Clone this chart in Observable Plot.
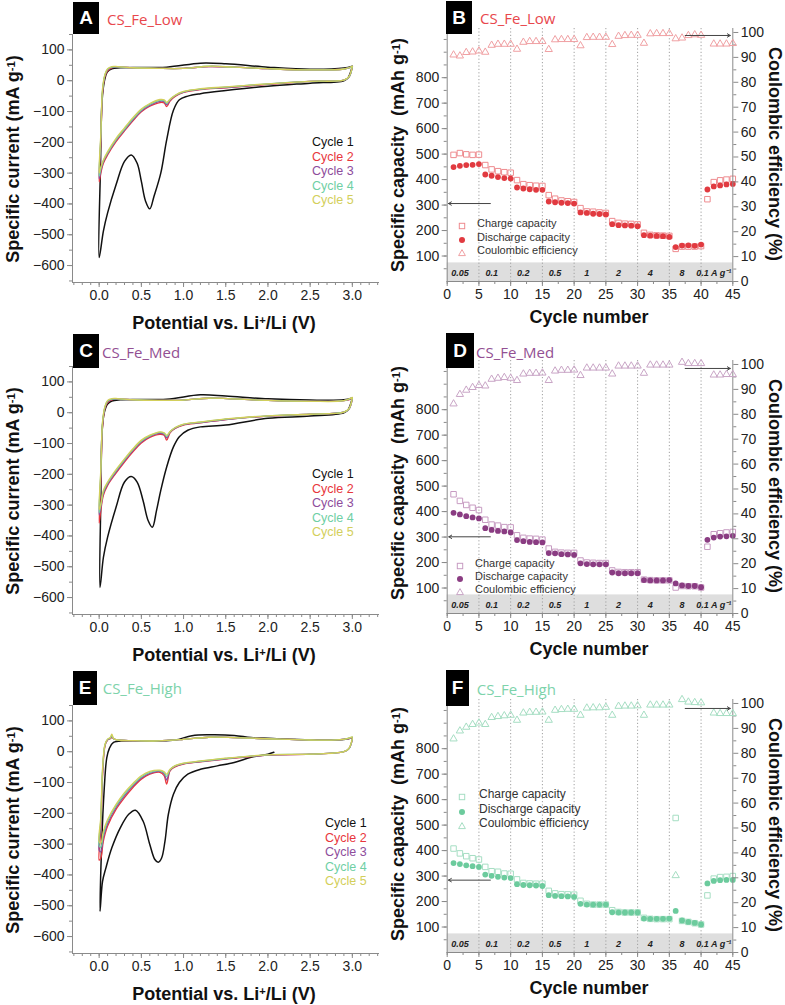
<!DOCTYPE html>
<html><head><meta charset="utf-8">
<script src="https://cdn.jsdelivr.net/npm/d3@7"></script>
<script src="https://cdn.jsdelivr.net/npm/@observablehq/plot@0.6"></script>
<style>
html,body{margin:0;padding:0;background:#fff;}
#root{position:relative;width:785px;height:1005px;overflow:hidden;background:#fff;font-family:"Liberation Sans",Arial,sans-serif;}
.box{position:absolute;background:#000;color:#fff;font-weight:bold;font-size:19px;display:flex;align-items:center;justify-content:center;}
.ttl{position:absolute;font-family:"Open Sans",sans-serif;font-size:15px;line-height:20px;white-space:nowrap;transform:translateY(-50%);}
.axt{position:absolute;font-weight:bold;font-size:18px;white-space:nowrap;color:#111;line-height:20px;}
.rotL{transform:translate(-50%,-50%) rotate(-90deg);}
.rotR{transform:translate(-50%,-50%) rotate(90deg);}
.hc{transform:translate(-50%,-50%);}
.axt sup{font-size:0.62em;position:relative;top:-0.2em;vertical-align:top;}
.lg{position:absolute;white-space:nowrap;line-height:1;transform:translateY(-50%);}
.lg sup{font-size:0.65em;vertical-align:top;}
.pw{position:absolute;}
.pw svg{background:transparent !important;overflow:visible;}
</style>
</head><body><div id="root"></div>
<script>
// ---------------- DATA ----------------
const cycleLabels = ["Cycle 1", "Cycle 2", "Cycle 3", "Cycle 4", "Cycle 5"];
const cycleColors = ["#111111", "#e8363c", "#8e4d9c", "#6fcfa4", "#d3cf5b"];

// Shared potential grid (V) for cycles 2-5 of panels A and C
const gridAC = [3.0, 2.96, 2.9, 2.5, 2.0, 1.5, 1.2, 1.0, 0.9, 0.84, 0.8, 0.77, 0.72, 0.6, 0.5, 0.4, 0.3, 0.2, 0.1, 0.05, 0.02, 0.0,
                0.02, 0.04, 0.07, 0.1, 0.15, 0.22, 0.4, 0.7, 1.0, 1.3, 1.6, 2.0, 2.5, 2.9, 3.0];
// Panel A (CS_Fe_Low) currents, mA/g
const A_c1_V = [3.0, 2.95, 2.9, 2.5, 2.0, 1.5, 1.2, 1.05, 0.95, 0.88, 0.8, 0.73, 0.65, 0.6, 0.55, 0.5, 0.45, 0.38, 0.3, 0.2, 0.1, 0.05, 0.0,
                0.016, 0.035, 0.063, 0.095, 0.15, 0.25, 0.8, 1.2, 1.5, 2.0, 2.5, 2.9, 3.0];
const A_c1_I = [47, 10, 0, -8, -18, -32, -42, -50, -62, -96, -192, -300, -375, -416, -391, -327, -268, -241, -262, -338, -429, -488, -574,
                -278, -63, 0, 28, 39, 42, 44, 57, 55, 44, 37, 41, 47];
const A_c2 = [45, 12, 2, -2, -12, -23, -29, -38, -51, -66, -84, -72, -71, -83, -101, -130, -163, -198, -241, -268, -300, -328,
              -200, -40, 15, 32, 42, 44, 42, 40, 40, 46, 44, 39, 35, 38, 45];
const A_c3 = [45, 12, 2, -2, -11, -22, -28, -37, -49, -63, -78, -68, -67, -80, -98, -127, -160, -194, -237, -263, -292, -318,
              -185, -35, 18, 35, 43, 45, 42, 40, 40, 46, 44, 39, 35, 38, 45];
const A_c4 = [46, 12, 2, -2, -10, -21, -27, -36, -48, -61, -74, -65, -64, -77, -95, -124, -157, -191, -234, -260, -286, -310,
              -180, -30, 20, 37, 44, 45, 42, 40, 40, 47, 44, 39, 35, 38, 46];
const A_c5 = [47, 13, 2, -2, -10, -20, -26, -35, -47, -60, -70, -62, -61, -74, -92, -120, -153, -187, -230, -257, -280, -300,
              -170, -25, 22, 39, 46, 46, 42, 40, 40, 47, 44, 39, 35, 38, 47];
// Panel C (CS_Fe_Med)
const C_c1_V = [3.0, 2.95, 2.9, 2.5, 2.0, 1.5, 1.2, 1.05, 0.95, 0.88, 0.8, 0.73, 0.68, 0.63, 0.58, 0.52, 0.45, 0.38, 0.3, 0.2, 0.1, 0.05, 0.01,
                0.02, 0.035, 0.06, 0.1, 0.15, 0.25, 0.8, 1.2, 1.5, 2.0, 2.5, 2.9, 3.0];
const C_c1_I = [48, 10, 0, -11, -18, -40, -46, -57, -78, -111, -176, -252, -317, -372, -350, -285, -225, -207, -225, -307, -404, -470, -567,
                -280, -60, 0, 28, 38, 42, 44, 58, 54, 45, 41, 42, 48];
const C_c2 = [46, 12, 2, -5, -11, -22, -33, -40, -51, -65, -89, -73, -70, -80, -98, -127, -160, -196, -236, -268, -317, -358,
              -220, -45, 15, 33, 42, 44, 42, 40, 41, 47, 45, 40, 37, 39, 46];
const C_c3 = [46, 12, 2, -5, -11, -22, -32, -39, -50, -63, -82, -70, -67, -77, -95, -123, -156, -192, -232, -262, -306, -332,
              -200, -38, 18, 36, 43, 45, 42, 40, 41, 47, 45, 40, 37, 39, 47];
const C_c4 = [47, 12, 2, -5, -10, -21, -31, -38, -49, -62, -77, -67, -64, -75, -92, -120, -153, -188, -228, -257, -300, -325,
              -190, -32, 20, 38, 44, 45, 42, 40, 41, 47, 45, 40, 37, 39, 48];
const C_c5 = [48, 13, 2, -5, -10, -20, -30, -37, -48, -61, -73, -65, -62, -73, -89, -117, -150, -185, -225, -252, -296, -315,
              -180, -28, 22, 40, 46, 46, 42, 40, 41, 47, 45, 40, 37, 39, 50];
// Panel E (CS_Fe_High)
const gridE = [3.0, 2.96, 2.9, 2.5, 2.0, 1.5, 1.2, 1.0, 0.9, 0.84, 0.8, 0.77, 0.72, 0.6, 0.5, 0.4, 0.3, 0.2, 0.1, 0.05, 0.02, 0.0,
               0.02, 0.04, 0.07, 0.1, 0.13, 0.15, 0.17, 0.22, 0.4, 0.7, 1.0, 1.3, 1.6, 2.0, 2.5, 2.9, 3.0];
const E_c1_V = [2.07, 2.0, 1.8, 1.6, 1.4, 1.2, 1.05, 0.95, 0.88, 0.82, 0.78, 0.74, 0.7, 0.66, 0.6, 0.52, 0.43, 0.35, 0.25, 0.15, 0.08, 0.04, 0.01,
                0.03, 0.06, 0.09, 0.12, 0.17, 0.3, 0.7, 0.9, 1.1, 1.3, 1.6, 1.8, 2.0, 2.5, 2.9, 3.0];
const E_c1_I = [-2, -8, -18, -35, -46, -57, -73, -100, -138, -203, -290, -345, -359, -350, -301, -225, -190, -203, -247, -312, -377, -421, -518,
                -300, -120, -20, 10, 30, 35, 35, 38, 52, 55, 53, 46, 44, 38, 40, 45];
const E_c2 = [40, 10, 0, -8, -11, -24, -33, -40, -49, -62, -105, -78, -67, -73, -89, -116, -149, -187, -241, -290, -345, -352,
              -250, -80, 20, 38, 42, 46, 42, 38, 36, 35, 40, 47, 46, 42, 38, 40, 45];
const E_c3 = [41, 10, 0, -8, -11, -23, -32, -39, -47, -60, -92, -72, -64, -70, -85, -111, -143, -181, -233, -278, -325, -320,
              -230, -70, 22, 39, 43, 50, 42, 38, 36, 35, 40, 47, 46, 42, 38, 40, 46];
const E_c4 = [42, 10, 0, -8, -10, -22, -31, -38, -46, -58, -80, -68, -62, -67, -82, -107, -138, -176, -226, -268, -310, -305,
              -220, -60, 24, 40, 44, 53, 42, 38, 36, 35, 40, 47, 46, 42, 38, 40, 47];
const E_c5 = [43, 11, 0, -8, -10, -21, -30, -37, -45, -57, -73, -65, -60, -64, -78, -103, -133, -171, -220, -258, -296, -292,
              -210, -55, 25, 41, 46, 57, 43, 38, 36, 35, 40, 47, 46, 42, 38, 40, 48];

// Rate capability (mAh/g) and Coulombic efficiency (%)
const cycleNumbers = d3.range(1, 46);
const rateLabels = ["0.05", "0.1", "0.2", "0.5", "1", "2", "4", "8", "0.1 A g\u207B\u00B9"];
const rateStarts = [0, 5, 10, 15, 20, 25, 30, 35, 40];
const legendLabels = ["Charge capacity", "Discharge capacity", "Coulombic efficiency"];

const B_charge = [497, 504, 499, 497, 498, 457, 440, 433, 429, 427, 398, 382, 378, 376, 375, 339, 325, 318, 315, 312, 288, 275, 274, 271, 269,
                  237, 230, 227, 226, 224, 191, 183, 181, 180, 179, 128, 137, 137, 137, 139, 323, 390, 397, 400, 403];
const B_discharge = [449, 454, 457, 458, 461, 420, 415, 410, 406, 404, 369, 365, 362, 360, 360, 314, 311, 309, 308, 306, 271, 269, 266, 265, 263,
                     225, 221, 220, 219, 217, 182, 180, 179, 178, 175, 135, 141, 142, 140, 145, 361, 373, 377, 381, 383];
const B_ce = [91.0, 90.6, 92.0, 92.2, 92.6, 92.1, 94.9, 95.3, 95.3, 95.3, 93.3, 96.1, 96.4, 96.4, 96.4, 93.2, 97.1, 97.2, 97.2, 97.2, 94.7, 98.0, 98.1, 98.1, 98.1,
              95.2, 98.5, 98.8, 98.9, 98.9, 95.7, 99.5, 99.6, 99.6, 99.6, 97.5, 97.8, 98.8, 99.1, 98.9, null, 95.4, 95.4, 95.4, 95.6];
const D_charge = [468, 442, 426, 415, 406, 368, 349, 345, 339, 338, 307, 297, 294, 293, 290, 255, 242, 239, 238, 238, 208, 200, 199, 198, 198,
                  169, 163, 162, 162, 162, 133, 131, 130, 130, 130, 102, 108, 107, 107, 102, 262, 311, 315, 318, 320];
const D_discharge = [395, 389, 382, 377, 373, 335, 328, 324, 322, 318, 288, 284, 281, 280, 279, 237, 236, 233, 232, 230, 197, 194, 193, 193, 193,
                     161, 158, 158, 158, 158, 131, 130, 130, 130, 131, 118, 110, 108, 108, 103, 289, 298, 302, 303, 305];
const D_ce = [84.2, 88.0, 89.7, 90.8, 91.6, 91.4, 94.1, 94.5, 94.8, 94.5, 93.6, 96.2, 96.5, 96.5, 96.6, 93.6, 97.4, 97.7, 97.7, 97.8, 95.6, 98.6, 98.6, 98.6, 98.6,
              96.2, 99.4, 99.4, 99.4, 99.4, 96.5, 99.8, 99.8, 99.8, 99.8, null, 100.9, 100.4, 100.4, 100.4, null, 95.8, 95.8, 96.0, 96.0];
const F_charge = [408, 389, 378, 370, 365, 336, 319, 317, 310, 309, 287, 273, 271, 270, 270, 242, 232, 229, 228, 227, 203, 191, 188, 188, 188,
                  166, 159, 157, 157, 157, 136, 132, 131, 131, 131, 528, 124, 120, 115, 110, 224, 290, 296, 297, 300];
const F_discharge = [351, 347, 342, 339, 336, 306, 301, 297, 294, 292, 268, 265, 264, 263, 261, 225, 222, 221, 220, 218, 191, 188, 188, 188, 188,
                     158, 157, 157, 157, 157, 133, 132, 132, 132, 133, 163, 126, 120, 116, 110, 271, 281, 284, 285, 285];
const F_ce = [85.8, 89.0, 90.5, 91.6, 92.2, 91.6, 94.4, 94.8, 95.1, 95.3, 93.3, 96.2, 96.5, 96.5, 96.6, 93.3, 97.3, 97.6, 97.7, 97.7, 95.3, 98.2, 98.3, 98.3, 98.5,
              95.3, 98.9, 99.0, 99.0, 99.1, 95.3, 99.4, 99.4, 99.4, 99.4, 30.9, 101.6, 100.6, 100.4, 100.3, null, 96.2, 96.0, 96.0, 96.0];

// ---------------- LAYOUT ----------------
const root = document.getElementById("root");
function el(tag, cls, style, html) {
  const e = document.createElement(tag);
  if (cls) e.className = cls;
  Object.assign(e.style, style || {});
  if (html != null) e.innerHTML = html;
  root.appendChild(e);
  return e;
}
function place(svg, left, top) {
  const w = el("div", "pw", {left: left + "px", top: top + "px"});
  w.appendChild(svg);
}
const AX = "#8a8a8a", TX = "#222";
const fmtMinus = d => d < 0 ? "\u2212" + Math.abs(d) : String(d);
const baseStyle = {fontFamily: "'Liberation Sans', Arial, sans-serif", fontSize: "14px", background: "transparent", color: TX, overflow: "visible"};

function cvPanel(p) {
  const series = p.cycles.map((c, k) => c.V.map((v, i) => ({v, cur: c.I[i], k})));
  const svg = Plot.plot({
    width: 390, height: 334, marginLeft: 72, marginRight: 12, marginTop: 34, marginBottom: 52,
    style: baseStyle,
    x: {domain: [-0.316, 3.31], axis: null},
    y: {domain: [-655, 150], axis: null},
    marks: [
      Plot.axisY({ticks: d3.range(-650, 151, 50), tickSize: 3, tickFormat: () => "", stroke: AX, label: null}),
      Plot.axisY({ticks: d3.range(-600, 101, 100), tickSize: 5, tickPadding: 3, tickFormat: fmtMinus, stroke: AX, fill: TX, fontSize: 14, label: null}),
      Plot.axisX({ticks: d3.range(-3, 34).map(d => d / 10), tickSize: 3, tickFormat: () => "", stroke: AX, label: null}),
      Plot.axisX({ticks: d3.range(0, 7).map(d => d / 2), tickSize: 5, tickPadding: 3, tickFormat: d => d.toFixed(1), stroke: AX, fill: TX, fontSize: 14, label: null}),
      Plot.frame({anchor: "left", stroke: AX}),
      Plot.frame({anchor: "bottom", stroke: AX}),
      ...series.map((s, k) => Plot.line(s, {x: "v", y: "cur", stroke: cycleColors[k], strokeWidth: k === 0 ? 1.5 : 1.3, curve: "catmull-rom"}))
    ]
  });
  place(svg, 0, p.top);
  // labels
  el("div", "box", {left: "73px", top: (p.top + p.box[0]) + "px", width: p.box[1] + "px", height: p.box[2] + "px"}, p.letter);
  el("div", "ttl", {left: p.title[0] + "px", top: (p.top + p.title[1]) + "px", color: p.titleColor}, p.name);
  el("div", "axt rotL", {left: "13px", top: (p.top + 158.5) + "px"}, "Specific current (mA g<sup>-1</sup>)");
  el("div", "axt hc", {left: "224px", top: (p.top + 322.7) + "px"}, "Potential vs. Li<sup>+</sup>/Li (V)");
  cycleLabels.forEach((t, i) => {
    el("div", "lg", {left: p.legend[0] + "px", top: (p.top + p.legend[1] + i * 14.5) + "px", fontSize: "12.5px", color: cycleColors[i]}, t);
  });
}

function symbolSvg(kind, color) {
  let inner;
  if (kind === 0) inner = `<rect x="2.3" y="2.3" width="5.4" height="5.4" fill="none" stroke="${color}" stroke-width="1"/>`;
  else if (kind === 1) inner = `<circle cx="5" cy="5" r="3" fill="${color}"/>`;
  else inner = `<path d="M5 1.6 L8.4 7.6 L1.6 7.6 Z" fill="none" stroke="${color}" stroke-width="1"/>`;
  return `<svg width="10" height="10" viewBox="0 0 10 10">${inner}</svg>`;
}

function ratePanel(p) {
  const rows = cycleNumbers.map((c, i) => ({c, ch: p.charge[i], dis: p.discharge[i], ce: p.ce[i]}));
  const common = {width: 395, height: 334, marginLeft: 56.7, marginRight: 52.7, marginTop: 28, marginBottom: 53,
                  style: baseStyle, x: {domain: [0, 45], axis: null}};
  const band = [{x1: 0, x2: 45, y1: 0, y2: 73}];
  const cap = Plot.plot({
    ...common,
    y: {domain: [0, 993], axis: null},
    marks: [
      Plot.rect(band, {x1: "x1", x2: "x2", y1: "y1", y2: "y2", fill: "#dedede"}),
      Plot.ruleX(rateStarts.slice(1), {stroke: "#a0a0a0", strokeDasharray: "1.2,2.2", strokeWidth: 1}),
      Plot.text(rateLabels, {x: (d, i) => rateStarts[i] + 2, frameAnchor: "bottom", dy: -6, text: d => d,
                             fontWeight: "bold", fontStyle: "italic", fontSize: 9, fill: "#222"}),
      Plot.axisY({ticks: d3.range(50, 951, 50), tickSize: 3, tickFormat: () => "", stroke: AX, label: null}),
      Plot.axisY({ticks: d3.range(100, 801, 100), tickSize: 5, tickPadding: 3, stroke: AX, fill: TX, fontSize: 14, label: null}),
      Plot.axisX({ticks: d3.range(0, 46, 2.5), tickSize: 3, tickFormat: () => "", stroke: AX, label: null}),
      Plot.axisX({ticks: d3.range(0, 46, 5), tickSize: 5, tickPadding: 3, stroke: AX, fill: TX, fontSize: 14, label: null}),
      Plot.frame({anchor: "left", stroke: AX}),
      Plot.frame({anchor: "bottom", stroke: AX}),
      Plot.dot(rows, {x: "c", y: "ch", symbol: "square", r: 3.1, stroke: p.col.ch, fill: "none", strokeWidth: 1}),
      Plot.dot(rows, {x: "c", y: "dis", symbol: "circle", r: 2.9, fill: p.col.dis, stroke: "none"}),
      Plot.arrow([p.arrowCap], {x1: "x1", x2: "x2", y1: "y", y2: "y", stroke: "#444", strokeWidth: 1, headLength: 5})
    ]
  });
  place(cap, 390, p.top);
  const ce = Plot.plot({
    ...common,
    y: {domain: [0, 101.6], axis: null},
    marks: [
      Plot.axisY({anchor: "right", ticks: d3.range(5, 100, 10), tickSize: 3, tickFormat: () => "", stroke: AX, label: null}),
      Plot.axisY({anchor: "right", ticks: d3.range(0, 101, 10), tickSize: 5, tickPadding: 3, stroke: AX, fill: TX, fontSize: 14, label: null}),
      Plot.frame({anchor: "right", stroke: AX}),
      Plot.dot(rows.filter(d => d.ce != null), {x: "c", y: "ce", symbol: "triangle", r: 2.7, stroke: p.col.ce, fill: "none", strokeWidth: 1}),
      Plot.arrow([p.arrowCe], {x1: "x1", x2: "x2", y1: "y", y2: "y", stroke: "#444", strokeWidth: 1, headLength: 5})
    ]
  });
  place(ce, 390, p.top);
  el("div", "box", {left: "446px", top: (p.top + p.box[0]) + "px", width: p.box[1] + "px", height: p.box[2] + "px"}, p.letter);
  el("div", "ttl", {left: p.title[0] + "px", top: (p.top + p.title[1]) + "px", color: p.titleColor}, p.name);
  el("div", "axt rotL", {left: "398px", top: (p.top + p.capTitleY) + "px"}, "Specific capacity&nbsp; (mAh g<sup>-1</sup>)");
  el("div", "axt rotR", {left: "775px", top: (p.top + 154) + "px"}, "Coulombic efficiency (%)");
  el("div", "axt hc", {left: "589px", top: (p.top + 316.7) + "px"}, "Cycle number");
  const symColors = [p.col.ch, p.col.dis, p.col.ce];
  legendLabels.forEach((t, i) => {
    const y = p.top + p.legend.ys[i];
    el("div", "lg", {left: (p.legend.sx - 5) + "px", top: y + "px", height: "10px"}, symbolSvg(i, symColors[i]));
    el("div", "lg", {left: p.legend.tx + "px", top: y + "px", fontSize: p.legend.fs + "px", color: "#333"}, t);
  });
}

const rowTops = [0, 332, 671];

cvPanel({letter: "A", name: "CS_Fe_Low", titleColor: "#e8474c", top: rowTops[0], box: [2, 26, 32], title: [107, 18.5], legend: [312, 142],
  cycles: [{V: A_c1_V, I: A_c1_I}, {V: gridAC, I: A_c2}, {V: gridAC, I: A_c3}, {V: gridAC, I: A_c4}, {V: gridAC, I: A_c5}]});
cvPanel({letter: "C", name: "CS_Fe_Med", titleColor: "#935093", top: rowTops[1], box: [2, 26, 34], title: [102, 19.7], legend: [312, 142.3],
  cycles: [{V: C_c1_V, I: C_c1_I}, {V: gridAC, I: C_c2}, {V: gridAC, I: C_c3}, {V: gridAC, I: C_c4}, {V: gridAC, I: C_c5}]});
cvPanel({letter: "E", name: "CS_Fe_High", titleColor: "#7dd3ab", top: rowTops[2], box: [0, 24, 34], title: [102.7, 17.3], legend: [325, 152.3],
  cycles: [{V: E_c1_V, I: E_c1_I}, {V: gridE, I: E_c2}, {V: gridE, I: E_c3}, {V: gridE, I: E_c4}, {V: gridE, I: E_c5}]});

ratePanel({letter: "B", name: "CS_Fe_Low", titleColor: "#e8474c", top: rowTops[0], box: [1, 26, 33], title: [480, 17.5], capTitleY: 154.5,
  charge: B_charge, discharge: B_discharge, ce: B_ce,
  col: {dis: "#e13a40", ch: "#ee8b8f", ce: "#f0a0a3"},
  arrowCap: {x1: 6.8, x2: 0.2, y: 306}, arrowCe: {x1: 37.5, x2: 44.6, y: 98.8},
  legend: {sx: 462, tx: 477, ys: [223, 237, 250], fs: 11}});
ratePanel({letter: "D", name: "CS_Fe_Med", titleColor: "#935093", top: rowTops[1], box: [1, 28, 35], title: [476, 19.7], capTitleY: 151,
  charge: D_charge, discharge: D_discharge, ce: D_ce,
  col: {dis: "#8a3c82", ch: "#c79cc2", ce: "#c9a5c6"},
  arrowCap: {x1: 6.8, x2: 0.25, y: 301}, arrowCe: {x1: 37.5, x2: 44.6, y: 98.4},
  legend: {sx: 460, tx: 475, ys: [231, 244, 257], fs: 11}});
ratePanel({letter: "F", name: "CS_Fe_High", titleColor: "#7dd3ab", top: rowTops[2], box: [-1, 23, 36], title: [476.7, 18.3], capTitleY: 153,
  charge: F_charge, discharge: F_discharge, ce: F_ce,
  col: {dis: "#6ccb9d", ch: "#a6dec3", ce: "#a6dec3"},
  arrowCap: {x1: 6.8, x2: 0.2, y: 284}, arrowCe: {x1: 37.5, x2: 44.6, y: 98.0},
  legend: {sx: 462, tx: 479, ys: [123, 138, 152], fs: 12}});
</script>
</body></html>
